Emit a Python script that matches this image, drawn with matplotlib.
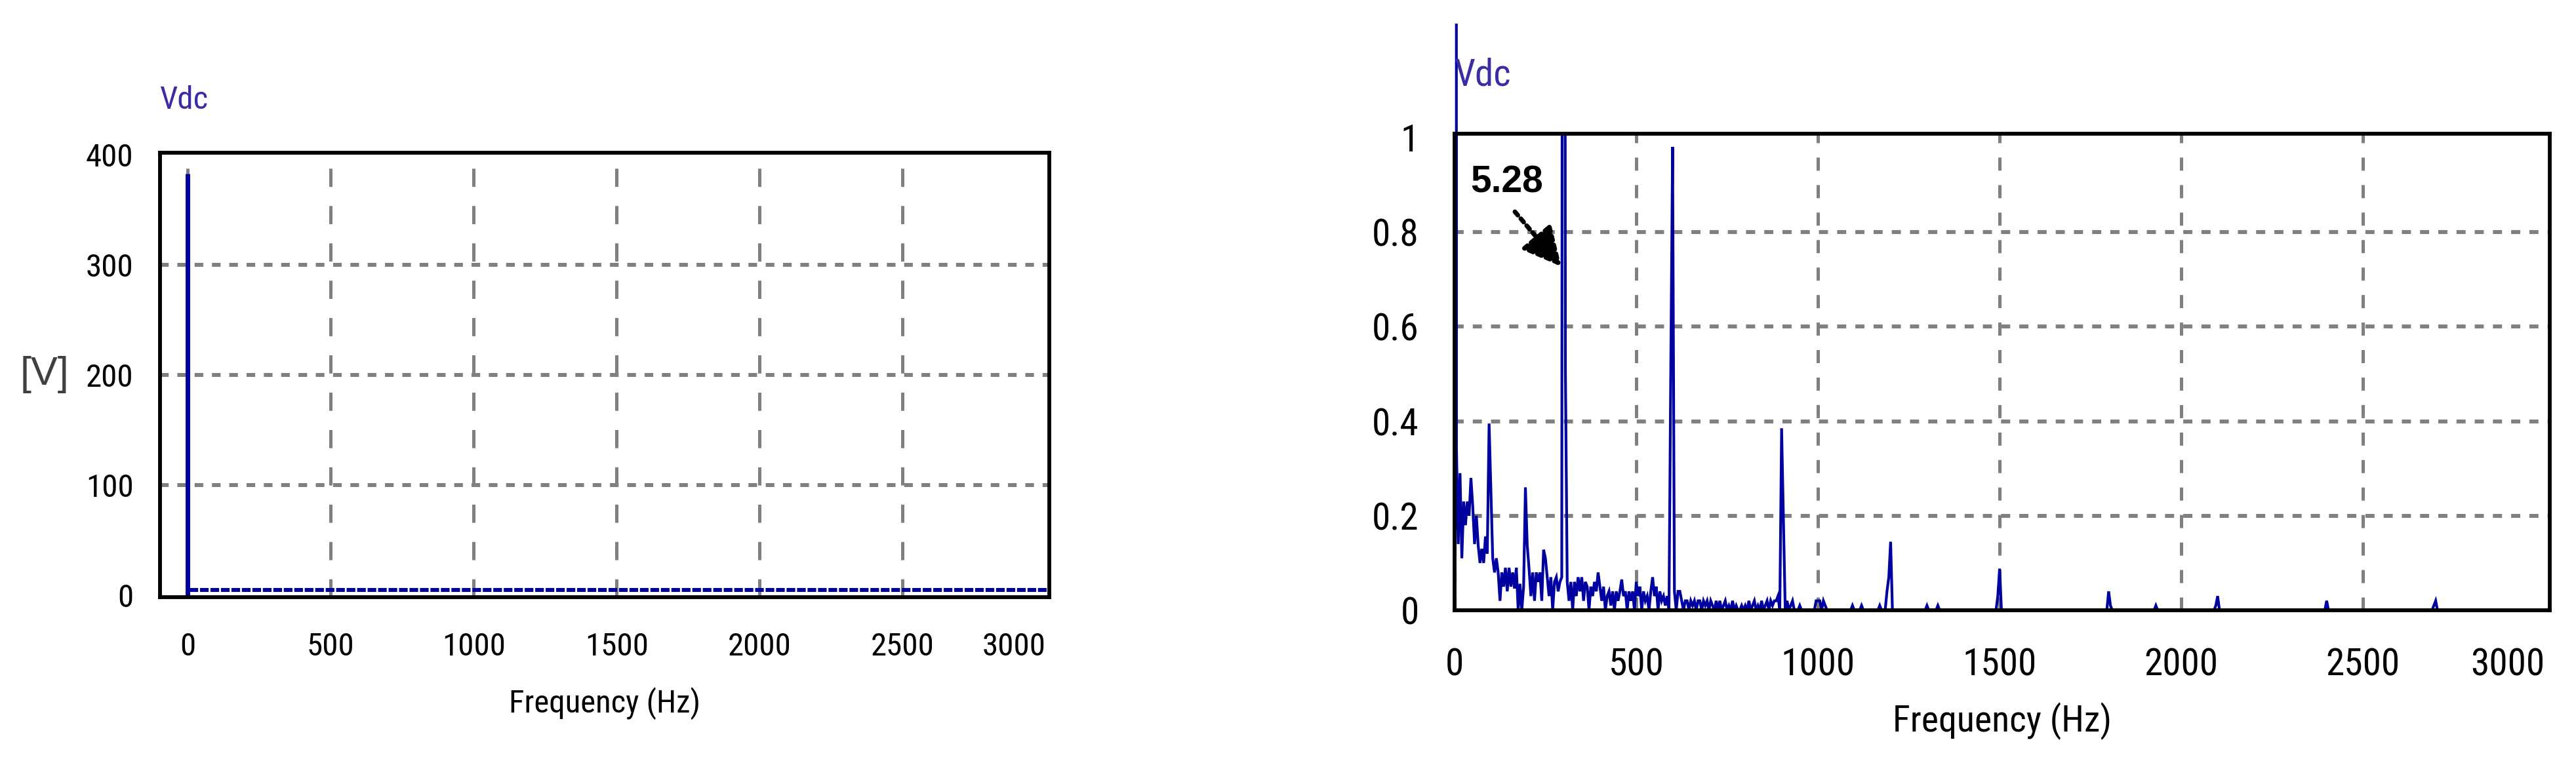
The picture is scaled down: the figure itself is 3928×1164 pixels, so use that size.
import numpy as np
import matplotlib
matplotlib.use('Agg')
import matplotlib.pyplot as plt
from matplotlib import font_manager
from matplotlib.font_manager import FontProperties
from matplotlib.textpath import TextPath
from matplotlib.patches import Rectangle

# pick a condensed sans font if one is installed
_cands = {}
for f in font_manager.fontManager.ttflist:
    if f.style != 'normal' or f.weight not in (400, 'normal', 'regular'):
        continue
    key = f.name
    if ('Narrow' in key or 'Condensed' in key or
            str(f.stretch) in ('condensed', 'semi-condensed', 'extra-condensed', '400', '300', '200')):
        _cands[key] = f
_priority = ['Liberation Sans Narrow', 'Arial Narrow', 'Roboto Condensed',
             'Open Sans Condensed', 'DejaVu Sans Condensed', 'Noto Sans Condensed']
NARROW = None
for p in _priority:
    if p in _cands:
        NARROW = p
        break
if NARROW is None:
    for k, f in _cands.items():
        if 'Mono' not in k and 'Serif' not in k and 'CJK' not in k:
            NARROW = k
            break
NARROW_PROP = None
if NARROW is None:
    NARROW = 'Liberation Sans'
    NARROW_PROP = FontProperties(family='Liberation Sans')
else:
    NARROW_PROP = FontProperties(fname=_cands[NARROW].fname)

plt.rcParams['lines.scale_dashes'] = False

# ---------------- data ----------------
left_dc_freq = [0, 0]
left_dc_amp = [0, 383]
left_floor_freq = [6, 3010]
left_floor_amp = [4.5, 4.5]
left_xticks = [0, 500, 1000, 1500, 2000, 2500, 3000]
left_yticks = [0, 100, 200, 300, 400]

low_freq = np.arange(0, 1005, 5)
low_amp = [
    383, 0.35, 0.14, 0.29, 0.11, 0.23, 0.18, 0.23, 0.20, 0.28,
    0.22, 0.14, 0.20, 0.137, 0.10, 0.13, 0.10, 0.156, 0.12, 0.395,
    0.25, 0.11, 0.08, 0.11, 0.08, 0.02, 0.08, 0.05, 0.09, 0.04,
    0.09, 0.05, 0.08, 0.046, 0.09, 0.0, 0.056, 0.0, 0.05, 0.26,
    0.137, 0.088, 0.03, 0.08, 0.02, 0.08, 0.06, 0.08, 0.02, 0.128,
    0.11, 0.07, 0.03, 0.07, 0.0, 0.06, 0.07, 0.04, 0.06, 0.07,
    5.28, 0.51, 0.06, 0.02, 0.06, 0.0, 0.06, 0.03, 0.07, 0.04,
    0.07, 0.02, 0.06, 0.05, 0.0, 0.05, 0.03, 0.06, 0.04, 0.08,
    0.05, 0.02, 0.05, 0.0, 0.03, 0.04, 0.01, 0.04, 0.0, 0.04,
    0.02, 0.04, 0.065, 0.03, 0.04, 0.0, 0.04, 0.02, 0.04, 0.0,
    0.06, 0.03, 0.05, 0.0, 0.04, 0.02, 0.03, 0.0, 0.04, 0.07,
    0.03, 0.05, 0.0, 0.04, 0.02, 0.03, 0.01, 0.03, 0.0, 0.51,
    0.98, 0.04, 0.0, 0.04, 0.04, 0.02, 0.0, 0.02, 0.02, 0.0,
    0.02, 0.01, 0.02, 0.0, 0.02, 0.02, 0.0, 0.02, 0.01, 0.02,
    0.0, 0.02, 0.01, 0.0, 0.02, 0.0, 0.02, 0.0, 0.01, 0.02,
    0.0, 0.01, 0.0, 0.02, 0.0, 0.01, 0.0, 0.0, 0.01, 0.0,
    0.01, 0.0, 0.02, 0.0, 0.01, 0.02, 0.0, 0.01, 0.0, 0.02,
    0.0, 0.01, 0.02, 0.0, 0.02, 0.01, 0.02, 0.02, 0.03, 0.0,
    0.385, 0.195, 0.0, 0.02, 0.0, 0.01, 0.02, 0.0, 0.0, 0.0,
    0.01, 0.0, 0.0, 0.0, 0.0, 0.0, 0.0, 0.0, 0.0, 0.02,
    0.02,
]
high_freq = [1005, 1010, 1015, 1020, 1025, 1090, 1095, 1100, 1115, 1120, 1125,
             1165, 1170, 1175, 1185, 1190, 1195, 1200, 1205, 1295, 1300, 1305,
             1325, 1330, 1335, 1490, 1495, 1500, 1505, 1795, 1800, 1805, 1810,
             1925, 1930, 1935, 2090, 2095, 2100, 2105, 2395, 2400, 2405,
             2690, 2695, 2700, 2705, 3000]
high_amp = [0.02, 0.0, 0.02, 0.01, 0.0, 0.0, 0.01, 0.0, 0.0, 0.01, 0.0,
            0.0, 0.01, 0.0, 0.0, 0.04, 0.07, 0.145, 0.0, 0.0, 0.01, 0.0,
            0.0, 0.01, 0.0, 0.0, 0.03, 0.088, 0.0, 0.0, 0.04, 0.01, 0.0,
            0.0, 0.01, 0.0, 0.0, 0.01, 0.03, 0.0, 0.0, 0.02, 0.0,
            0.0, 0.01, 0.02, 0.0, 0.0]
right_xticks = [0, 500, 1000, 1500, 2000, 2500, 3000]
right_yticks = [0, 0.2, 0.4, 0.6, 0.8, 1.0]
right_yticklabels = ['0', '0.2', '0.4', '0.6', '0.8', '1']

annot_text = '5.28'
annot_text_xy = (144, 0.905)
annot_start_xy = (166, 0.843)
annot_tip_xy = (294, 0.727)

# ---------------- style ----------------
BLUE = '#0000a0'
GRID = '#808080'
TITLE_C = '#3a2ca4'
PX_PER_PT = 100 / 72.0


def fit_size(s, w_px, h_px):
    tp = TextPath((0, 0), s, size=100, prop=NARROW_PROP)
    ext = tp.get_extents()
    sw = w_px / (ext.width * PX_PER_PT / 100)
    sh = h_px / (ext.height * PX_PER_PT / 100)
    return (sw * sh) ** 0.5


FS_LTICK = fit_size('200', 55, 44)
FS_RTICK = fit_size('1500', 92, 48)
FS_LXLAB = fit_size('Frequency (Hz)', 247, 58)
FS_RXLAB = fit_size('Frequency (Hz)', 308, 61)
FS_LVDC = fit_size('Vdc', 60, 44)
FS_RVDC = fit_size('Vdc', 77, 47)

fig = plt.figure(figsize=(39.28, 11.64), dpi=100)
axL = fig.add_axes([244/3928, 1-911/1164, 1356/3928, 678/1164])
axR = fig.add_axes([2218/3928, 1-931/1164, 1670/3928, 727/1164])


def style_axes(ax, hgrid_dash, vgrid_dash):
    ax.set_axisbelow(True)
    ax.yaxis.grid(True, color=GRID, lw=4.3, ls=(0, hgrid_dash))
    ax.xaxis.grid(True, color=GRID, lw=3.6, ls=(0, vgrid_dash))
    for s in ax.spines.values():
        s.set_linewidth(4.2)
        s.set_color('black')
        s.set_zorder(5)


def finish_grid(ax):
    xg = ax.get_xgridlines()
    yg = ax.get_ygridlines()
    xg[-1].set_visible(False)
    yg[0].set_visible(False)
    yg[-1].set_visible(False)


def tick_font(ax, size):
    for lab in ax.get_xticklabels() + ax.get_yticklabels():
        lab.set_fontproperties(NARROW_PROP)
        lab.set_fontsize(size)


# ---- left panel ----
style_axes(axL, (9.5, 9.5), (20, 21))
axL.plot(left_floor_freq, left_floor_amp, color=BLUE, lw=4.3,
         ls=(0, (9.5, 2.0)), solid_capstyle='butt', dash_capstyle='butt')
axL.plot(left_dc_freq, left_dc_amp, color=BLUE, lw=5.0, solid_capstyle='butt')
axL.set_xlim(-97, 3013)
axL.set_ylim(-2, 402)
axL.set_xticks(left_xticks)
axL.set_yticks(left_yticks)
axL.tick_params(length=0)
axL.tick_params(axis='x', pad=38)
axL.tick_params(axis='y', pad=29)
tick_font(axL, FS_LTICK)
axL.get_xticklabels()[-1].set_ha('right')
finish_grid(axL)
axL.set_xlabel('Frequency (Hz)', fontproperties=NARROW_PROP, fontsize=FS_LXLAB)
axL.xaxis.set_label_coords(0.5, -0.239)
axL.xaxis.label.set_va('center')
axL.set_ylabel('[V]', rotation=0, fontsize=44, color='#404040',
               family=['Liberation Sans', 'DejaVu Sans'])
axL.yaxis.set_label_coords(-0.1298, 0.5)
axL.yaxis.label.set_va('center')
axL.yaxis.label.set_ha('center')
axL.text(0.0, 1.118, 'Vdc', transform=axL.transAxes, ha='left', va='center',
         fontproperties=NARROW_PROP, fontsize=FS_LVDC, color=TITLE_C)

# ---- right panel ----
style_axes(axR, (10, 10), (14.4, 15.8))
freq_all = np.concatenate([low_freq, high_freq])
amp_all = np.concatenate([low_amp, high_amp])
axR.plot(freq_all, amp_all, color=BLUE, lw=3.0, solid_joinstyle='miter')
dc_line, = axR.plot(low_freq[:2], low_amp[:2], color=BLUE, lw=3.0, clip_on=True)
clip = Rectangle((-0.02, 0.0), 0.04, 1.231, transform=axR.transAxes)
dc_line.set_clip_path(clip)
axR.set_xlim(0, 3014)
axR.set_ylim(0.002, 1.008)
axR.set_xticks(right_xticks)
axR.set_yticks(right_yticks)
axR.set_yticklabels(right_yticklabels)
axR.tick_params(length=0)
axR.tick_params(axis='x', pad=41)
axR.tick_params(axis='y', pad=39)
tick_font(axR, FS_RTICK)
axR.get_xticklabels()[-1].set_ha('right')
finish_grid(axR)
axR.set_xlabel('Frequency (Hz)', fontproperties=NARROW_PROP, fontsize=FS_RXLAB)
axR.xaxis.set_label_coords(0.5, -0.2325)
axR.xaxis.label.set_va('center')
axR.text(0.0, 1.122, 'Vdc', transform=axR.transAxes, ha='left', va='center',
         fontproperties=NARROW_PROP, fontsize=FS_RVDC, color=TITLE_C, zorder=6)

axR.text(annot_text_xy[0], annot_text_xy[1], annot_text, ha='center', va='center',
         fontsize=41, fontweight='bold', family=['Liberation Sans', 'DejaVu Sans'],
         color='black', zorder=7)
axR.annotate('', xy=annot_tip_xy, xytext=annot_start_xy,
             arrowprops=dict(arrowstyle='-|>,head_length=3.6,head_width=1.8',
                             mutation_scale=10, lw=5, ls=(0, (5, 5)),
                             color='black', shrinkA=0, shrinkB=0),
             zorder=7)

fig.savefig('out.png', dpi=100)
